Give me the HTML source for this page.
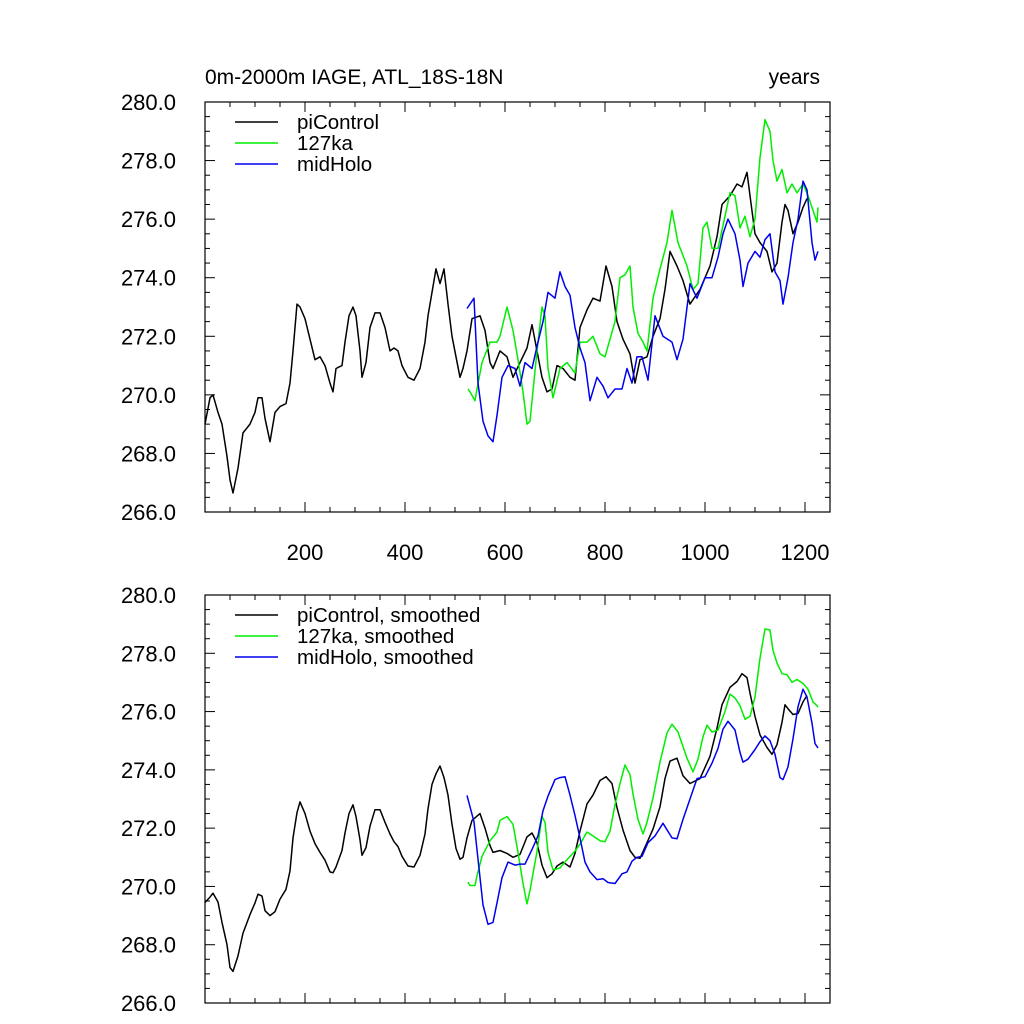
<!DOCTYPE html>
<html><head><meta charset="utf-8"><style>
html,body{margin:0;padding:0;background:#fff;}
svg{display:block;font-family:"Liberation Sans",sans-serif;}
</style></head><body>
<svg id="chart" width="1024" height="1024" viewBox="0 0 1024 1024">
<text x="205" y="84" font-size="21">0m-2000m IAGE, ATL_18S-18N</text>
<text x="820" y="84" font-size="21" text-anchor="end">years</text>
<g id="top"></g>
<g id="bot"></g>
</svg>
<script>
const piYears=[0,10,16,26,34,44,50,56,66,76,90,100,106,114,120,130,140,150,162,170,176,184,190,200,210,220,230,240,250,256,262,274,280,288,296,302,310,314,322,330,340,350,360,370,378,386,394,406,418,430,440,446,454,462,470,478,486,494,502,510,516,524,534,550,560,570,576,590,604,616,630,644,654,664,674,684,694,704,716,730,740,750,764,776,790,802,814,824,836,850,860,870,884,896,910,920,930,944,956,970,990,1010,1024,1034,1050,1064,1074,1084,1090,1100,1110,1124,1134,1144,1154,1160,1166,1176,1186,1196,1204];
const piValues=[269.0,269.9,270.0,269.4,269.0,267.9,267.1,266.65,267.5,268.7,269.0,269.4,269.9,269.9,269.2,268.4,269.4,269.6,269.7,270.4,271.5,273.1,273.0,272.6,271.9,271.2,271.3,271.0,270.4,270.1,270.9,271.0,271.8,272.7,273.0,272.7,271.5,270.6,271.1,272.3,272.8,272.8,272.3,271.5,271.6,271.5,271.0,270.6,270.5,270.9,271.8,272.7,273.5,274.3,273.8,274.3,273.1,272.0,271.3,270.6,270.9,271.5,272.6,272.7,272.2,271.1,270.9,271.5,271.3,270.6,271.1,271.6,272.4,271.5,270.6,270.1,270.2,271.0,270.9,270.6,270.5,272.3,272.9,273.3,273.2,274.4,273.7,272.5,271.9,271.4,270.4,271.2,271.3,272.0,272.6,273.6,274.9,274.4,273.9,273.1,273.6,274.4,275.4,276.5,276.8,277.2,277.1,277.6,276.8,275.5,275.2,274.9,274.2,274.5,275.9,276.5,276.3,275.5,275.9,276.4,276.7];
const kaYears=[526,530,540,544,554,570,584,590,604,616,626,636,644,650,664,674,680,686,696,710,724,740,750,764,776,790,800,810,820,830,840,850,856,866,876,884,896,910,924,934,946,964,976,986,996,1004,1014,1026,1040,1050,1060,1070,1080,1090,1100,1110,1120,1130,1136,1144,1154,1164,1174,1184,1196,1206,1216,1224,1226];
const kaValues=[270.2,270.1,269.8,270.2,271.1,271.8,271.8,272.0,273.0,272.2,271.2,270.1,269.0,269.1,271.5,273.0,272.7,270.9,269.9,270.9,271.1,270.75,271.8,271.8,272.0,271.4,271.3,271.9,272.5,274.0,274.1,274.4,273.0,272.1,271.8,271.5,273.3,274.3,275.2,276.3,275.2,274.4,273.6,273.8,275.7,275.9,275.0,275.0,276.1,276.9,276.8,275.7,276.1,275.4,276.0,278.1,279.4,279.0,278.0,277.3,277.7,276.9,277.2,276.9,277.2,276.8,276.3,275.9,276.4];
const mhYears=[524,538,546,556,566,576,584,594,606,620,630,640,654,666,676,686,700,710,720,730,740,750,760,770,784,796,806,820,834,844,854,864,874,886,900,916,934,944,956,970,984,1000,1014,1026,1036,1046,1060,1070,1076,1086,1100,1110,1120,1130,1140,1150,1156,1166,1176,1186,1196,1204,1214,1220,1226];
const mhValues=[272.95,273.3,270.4,269.1,268.6,268.4,269.3,270.6,271.0,270.9,270.3,271.1,270.9,271.8,272.5,273.5,273.3,274.2,273.7,273.4,272.3,271.6,271.1,269.8,270.6,270.3,269.9,270.2,270.2,270.9,270.4,271.3,271.3,270.5,272.7,272.0,271.8,271.2,271.9,273.8,273.3,274.0,274.0,274.7,275.5,276.0,275.5,274.6,273.7,274.5,274.9,274.7,275.3,275.5,274.2,273.9,273.1,274.0,275.2,276.0,277.3,277.0,275.2,274.6,274.9];
const yTicks=[266,268,270,272,274,276,278,280];
const xTicks=[200,400,600,800,1000,1200];
const legendNames=["piControl","127ka","midHolo"];

const NS="http://www.w3.org/2000/svg";
const X0=205,X1=830,XMIN=0,XMAX=1250,YMIN=266,YMAX=280;
function sx(v){return X0+(v-XMIN)/(XMAX-XMIN)*(X1-X0);}
function mk(tag,attrs,parent){const e=document.createElementNS(NS,tag);for(const k in attrs)e.setAttribute(k,attrs[k]);parent.appendChild(e);return e;}
function smooth(a){return a.map((v,i)=>{let s=0,n=0;for(let j=i-1;j<=i+1;j++){if(j>=0&&j<a.length){s+=a[j];n++;}}return s/n;});}

function panel(g,top,bottom,showX,suffix,smoothIt){
  const sy=v=>bottom-(v-YMIN)/(YMAX-YMIN)*(bottom-top);
  for(let v=YMIN;v<=YMAX+1e-6;v+=0.5){
    const major=Math.abs(v-Math.round(v/2)*2)<1e-6;
    const L=major?10:5;
    const t1=mk('line',{x1:X0,x2:X0+L,y1:sy(v),y2:sy(v),stroke:'#000','stroke-width':1},g);
    
    
    const t2=mk('line',{x1:X1,x2:X1-L,y1:sy(v),y2:sy(v),stroke:'#000','stroke-width':1},g);
    
    
  }
  yTicks.forEach(v=>{
    const t=mk('text',{x:176,y:sy(v)+8,'font-size':22,'text-anchor':'end'},g);
    t.textContent=v.toFixed(1);
    
    
  });
  for(let v=50;v<XMAX;v+=50){
    const major=v%200===0;
    const L=major?10:5;
    const a=mk('line',{x1:sx(v),x2:sx(v),y1:bottom,y2:bottom-L,stroke:'#000','stroke-width':1},g);
    
    
    const b=mk('line',{x1:sx(v),x2:sx(v),y1:top,y2:top+L,stroke:'#000','stroke-width':1},g);
    
    
  }
  if(showX){xTicks.forEach(v=>{
    const t=mk('text',{x:sx(v),y:bottom+48,'font-size':22,'text-anchor':'middle'},g);
    t.textContent=v;
    
    
  });}
  const series=[[piYears,piValues,'#000','picontrol'],[kaYears,kaValues,'#00ee00','127ka'],[mhYears,mhValues,'#0000ee','midholo']];
  series.forEach((s,i)=>{
    const vals=smoothIt?smooth(s[1]):s[1];
    const d=s[0].map((yr,k)=>(k?'L':'M')+sx(yr).toFixed(1)+','+sy(vals[k]).toFixed(1)).join('');
    const p=mk('path',{d:d,fill:'none',stroke:s[2],'stroke-width':1.5,'stroke-linejoin':'round'},g);
    
    
    const ly=top+20+i*21;
    const ll=mk('line',{x1:235,x2:278,y1:ly,y2:ly,stroke:s[2],'stroke-width':1.4},g);
    
    
    const lt=mk('text',{x:297,y:ly+7,'font-size':20.5},g);
    lt.textContent=legendNames[i]+suffix;
    
    
  });
  const r=mk('rect',{x:X0,y:top,width:X1-X0,height:bottom-top,fill:'none',stroke:'#000','stroke-width':1.2},g);
  
  
}
panel(document.getElementById('top'),102,512,true,'',false);
panel(document.getElementById('bot'),595,1003,false,', smoothed',true);
</script>
</body></html>
